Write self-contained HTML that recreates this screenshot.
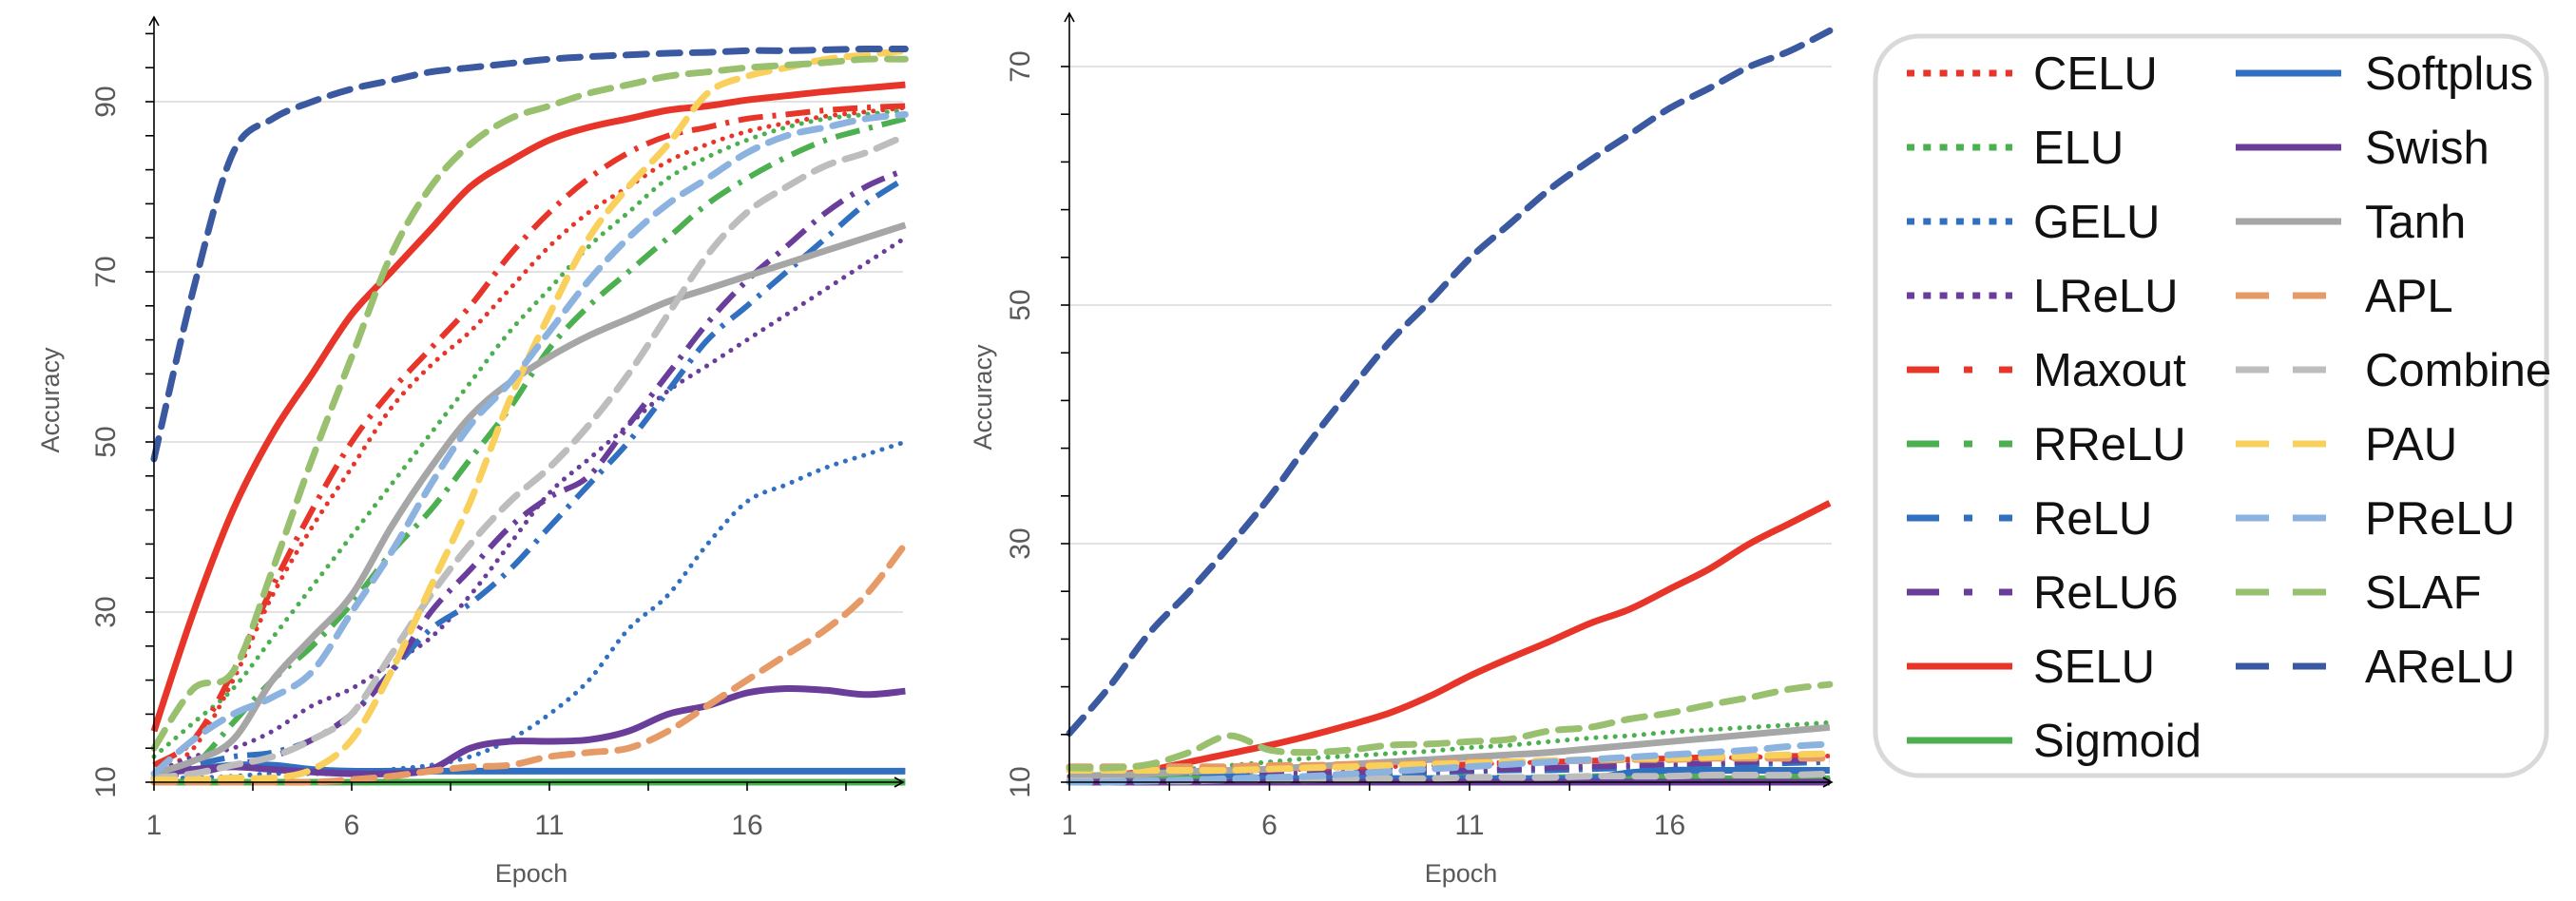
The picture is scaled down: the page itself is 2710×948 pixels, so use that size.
<!DOCTYPE html>
<html><head><meta charset="utf-8">
<style>
html,body{margin:0;padding:0;background:#fff;}
svg{display:block;}
text{font-family:"Liberation Sans",sans-serif;}
</style></head>
<body>
<svg id="fig" width="2710" height="948" viewBox="0 0 2710 948" xmlns="http://www.w3.org/2000/svg">
  <g id="left"></g>
  <g id="right"></g>
  <g id="legend">
    <rect x="1973" y="38" width="706" height="778" rx="46" ry="46" fill="#fff" stroke="#d9d9d9" stroke-width="5"/>
  </g>
</svg>
<script>
const epochs = [1,2,3,4,5,6,7,8,9,10,11,12,13,14,15,16,17,18,19,20];
const seriesNames = ["CELU","ELU","GELU","LReLU","Maxout","RReLU","ReLU","ReLU6","SELU","Sigmoid","Softplus","Swish","Tanh","APL","Combine","PAU","PReLU","SLAF","AReLU"];
const leftTicks = [10,30,50,70,90];
const rightTicks = [10,30,50,70];
const xTickLabels = [1,6,11,16];

// Left chart values
const L_CELU   = [11,14,22,32,40,47,54,59,63,68,73,77,80,83,85,86.5,87.5,88.3,88.8,89.3];
const L_ELU    = [13,17,21,27,33,39,45,51,57,63,68,73,77,81,83.5,85.5,87,88,88.5,89];
const L_GELU   = [10.5,10.5,10.7,11,11,11,11.5,12,13,15,18,22,28,32,38,43,45,47,48.5,50];
const L_LReLU  = [11,13,14,16,19,21,24,27,32,38,44,48,52,56,59,62,65,68,71,74];
const L_Maxout = [12,15,23,33,42,50,56,61,66,72,77,81,84,86,87,88,88.5,89,89.3,89.5];
const L_RReLU  = [11,12,17,22,26,31,37,42,48,54,61,66,70,74,78,81,83.5,85.5,86.8,88];
const L_ReLU   = [11,12,13,13.5,15,18,23,28,31,35,40,45,50,56,62,66,70,74,78,81];
const L_ReLU6  = [11,11,12,13,15,18,23,30,35,40,43.5,46,52,58,64,69,73,77,80,82];
const L_SELU   = [16,30,42,51,58,65,70,75,80,83,85.5,87,88,89,89.5,90.2,90.7,91.2,91.6,92];
const L_Sigmoid= [10,10,10,10,10,10,10,10,10,10,10,10,10,10,10,10,10,10,10,10];
const L_Softplus=[11,11.5,12,12,11.5,11.3,11.3,11.3,11.3,11.3,11.3,11.3,11.3,11.3,11.3,11.3,11.3,11.3,11.3,11.3];
const L_Swish  = [11,11.5,11.8,11.5,11.2,11,11,11.5,14,14.8,14.8,15,16,18,19,20.5,21,20.8,20.3,20.7];
const L_Tanh   = [11,12.5,15,22,27,32,40,47,53,57,60,62.5,64.5,66.5,68,69.5,71,72.5,74,75.5];
const L_APL    = [10,10,10,10,10,10.3,10.7,11.3,11.8,12,13,13.5,14,16,19,22,25,28,32,38];
const L_Combine= [10.5,11,12,13,15,18,25,32,38,43,47,52,58,65,72,77,80,82.5,84,86];
const L_PAU    = [10.3,10.3,10.5,10.5,11.5,15,23,33,43,55,65,74,80,85,91,93,94,95,95.5,96];
const L_PReLU  = [11,15,18,20,23,30,37,45,52,57,63,69,74,78,81,84,86,87,88,88.5];
const L_SLAF   = [14,21,23,35,48,60,72,80,85,88,89.5,91,92,93,93.5,94,94.3,94.6,95,95];
const L_AReLU  = [48,68,84,88,90,91.5,92.5,93.5,94,94.5,95,95.3,95.5,95.7,95.8,96,96,96.1,96.2,96.2];

// Right chart values
const R_CELU   = [10.3,10.4,10.5,10.6,10.8,11,11.1,11.2,11.3,11.4,11.5,11.6,11.7,11.8,11.9,12,12,12.1,12.1,12.2];
const R_ELU    = [10.5,10.7,10.9,11.1,11.4,11.7,12,12.2,12.4,12.6,12.9,13.1,13.4,13.7,13.9,14.2,14.4,14.6,14.8,15];
const R_GELU   = [10.2,10.2,10.2,10.2,10.2,10.2,10.2,10.2,10.2,10.2,10.2,10.2,10.2,10.2,10.2,10.2,10.3,10.3,10.3,10.3];
const R_LReLU  = [10.5,10.5,10.4,10.4,10.4,10.3,10.3,10.3,10.3,10.3,10.3,10.3,10.2,10.2,10.2,10.2,10.2,10.2,10.2,10.2];
const R_Maxout = [10.5,10.6,10.7,10.8,10.9,11,11.1,11.2,11.3,11.4,11.5,11.6,11.7,11.8,11.9,12,12.1,12.1,12.2,12.2];
const R_RReLU  = [10.2,10.2,10.2,10.3,10.3,10.3,10.3,10.3,10.4,10.4,10.4,10.4,10.4,10.5,10.5,10.5,10.5,10.5,10.5,10.5];
const R_ReLU   = [10.3,10.3,10.4,10.4,10.5,10.5,10.6,10.6,10.7,10.8,10.9,11,11,11.1,11.2,11.3,11.4,11.5,11.6,11.7];
const R_ReLU6  = [10.3,10.3,10.4,10.5,10.5,10.6,10.7,10.8,10.9,11,11,11.1,11.2,11.3,11.4,11.5,11.6,11.7,11.8,11.9];
const R_SELU   = [10.2,10.5,11,11.7,12.4,13.1,13.9,14.8,15.8,17.2,18.9,20.4,21.8,23.3,24.5,26.2,27.9,30,31.7,33.4];
const R_Sigmoid= [10.3,10.3,10.3,10.3,10.3,10.3,10.3,10.3,10.3,10.3,10.3,10.3,10.3,10.3,10.3,10.3,10.3,10.3,10.3,10.3];
const R_Softplus=[10.3,10.4,10.8,10.9,10.6,10.3,10.3,10.3,10.3,10.3,10.3,10.3,10.3,10.3,10.8,11,11,11,11,11];
const R_Swish  = [10,10,10,10,10,10,10,10,10,10,10,10,10,10,10,10,10,10,10,10];
const R_Tanh   = [10.5,10.6,10.7,10.9,11,11.1,11.3,11.5,11.7,11.9,12.1,12.3,12.5,12.8,13.1,13.4,13.7,14,14.3,14.6];
const R_APL    = [11.3,11.3,11.3,11.3,11.3,11.4,11.4,11.5,11.5,11.6,11.7,11.7,11.8,11.8,11.9,11.9,12,12,12,12];
const R_Combine= [10.1,10.1,10.1,10.1,10.2,10.2,10.2,10.3,10.3,10.3,10.4,10.4,10.4,10.5,10.5,10.5,10.6,10.6,10.6,10.7];
const R_PAU    = [11,11,11,11,11,11.1,11.2,11.3,11.4,11.5,11.6,11.7,11.8,11.9,12,12,12.1,12.2,12.3,12.4];
const R_PReLU  = [10,10,10.1,10.2,10.3,10.4,10.5,10.7,10.9,11.1,11.3,11.5,11.7,11.9,12.1,12.3,12.5,12.7,13,13.2];
const R_SLAF   = [11.2,11.2,11.5,12.5,13.9,12.7,12.5,12.7,13.1,13.2,13.4,13.6,14.3,14.6,15.3,15.8,16.5,17.1,17.8,18.2];
const R_AReLU  = [14.1,18,22.5,26,29.8,33.9,38.5,42.8,46.9,50.3,53.9,56.8,59.7,62.1,64.3,66.5,68.2,70,71.3,73];

const leftData = [L_CELU,L_ELU,L_GELU,L_LReLU,L_Maxout,L_RReLU,L_ReLU,L_ReLU6,L_SELU,L_Sigmoid,L_Softplus,L_Swish,L_Tanh,L_APL,L_Combine,L_PAU,L_PReLU,L_SLAF,L_AReLU];
const rightData = [R_CELU,R_ELU,R_GELU,R_LReLU,R_Maxout,R_RReLU,R_ReLU,R_ReLU6,R_SELU,R_Sigmoid,R_Softplus,R_Swish,R_Tanh,R_APL,R_Combine,R_PAU,R_PReLU,R_SLAF,R_AReLU];

const RED="#e8352a",GRN="#4caf50",BLU="#3170c1",PUR="#6a3d9a",GRY="#a6a6a6",ORG="#e69a66",LGY="#bdbdbd",YEL="#f9d05b",LBL="#8cb3e0",LGR="#99c06e",DBL="#3b59a0";
const styles = [
 {c:RED,t:"dot"},{c:GRN,t:"dot"},{c:BLU,t:"dot"},{c:PUR,t:"dot"},
 {c:RED,t:"dd"},{c:GRN,t:"dd"},{c:BLU,t:"dd"},{c:PUR,t:"dd"},
 {c:RED,t:"solid"},{c:GRN,t:"solid"},{c:BLU,t:"solid"},{c:PUR,t:"solid"},{c:GRY,t:"solid"},
 {c:ORG,t:"dash"},{c:LGY,t:"dash"},{c:YEL,t:"dash"},{c:LBL,t:"dash"},{c:LGR,t:"dash"},{c:DBL,t:"dash"}
];
const NS="http://www.w3.org/2000/svg";
function mk(tag, attrs, parent){const e=document.createElementNS(NS,tag);for(const k in attrs)e.setAttribute(k,attrs[k]);parent.appendChild(e);return e;}

function smoothPath(pts){
  let d="M"+pts[0][0].toFixed(1)+","+pts[0][1].toFixed(1);
  for(let i=0;i<pts.length-1;i++){
    const p0=pts[Math.max(0,i-1)],p1=pts[i],p2=pts[i+1],p3=pts[Math.min(pts.length-1,i+2)];
    const c1x=p1[0]+(p2[0]-p0[0])/6,c1y=p1[1]+(p2[1]-p0[1])/6;
    const c2x=p2[0]-(p3[0]-p1[0])/6,c2y=p2[1]-(p3[1]-p1[1])/6;
    d+=` C${c1x.toFixed(1)},${c1y.toFixed(1)} ${c2x.toFixed(1)},${c2y.toFixed(1)} ${p2[0].toFixed(1)},${p2[1].toFixed(1)}`;
  }
  return d;
}

function strokeAttrs(st, chart){
  const a={fill:"none",stroke:st.c,"stroke-linejoin":"round"};
  if(st.t==="dot"){a["stroke-width"]=5;a["stroke-dasharray"]="0.1 10";a["stroke-linecap"]="round";}
  else if(st.t==="dd"){a["stroke-width"]=7;a["stroke-dasharray"]="34 26 9 28";a["stroke-linecap"]="butt";}
  else if(st.t==="dash"){a["stroke-width"]=7;a["stroke-dasharray"]=chart?"22 13":"35 25";a["stroke-linecap"]=chart?"round":"butt";}
  else {a["stroke-width"]=7;a["stroke-linecap"]="butt";}
  return a;
}

function drawChart(g, cfg, data){
  const X = e => cfg.x0 + (e-1)*cfg.dx;
  const Y = v => cfg.y0 - (v-10)*cfg.dy;
  cfg.ticks.forEach(v=>{
    if(v===10) return;
    const l=mk("line",{x1:cfg.x0,x2:cfg.xEnd,y1:Y(v),y2:Y(v),stroke:"#d9d9d9","stroke-width":1.5},g);
    
    
  });
  data.forEach((vals,i)=>{
    const st=styles[i];
    const pts=vals.map((v,j)=>[X(epochs[j]),Y(v)]);
    const a=strokeAttrs(st,true);
    if(st.t==="dd"){a["stroke-width"]=6;a["stroke-dasharray"]="26 10 4 10";}
    a.d=smoothPath(pts);
    const p=mk("path",a,g);
    
    
  });
  const ax=mk("g",{stroke:"#000","stroke-width":1.6,fill:"none"},g);
  
  
  mk("line",{x1:cfg.x0,y1:cfg.y0,x2:cfg.x0,y2:cfg.yTop},ax);
  mk("path",{d:`M${cfg.x0-5},${cfg.yTop+9} L${cfg.x0},${cfg.yTop} L${cfg.x0+5},${cfg.yTop+9}`},ax);
  mk("line",{x1:cfg.x0,y1:cfg.y0,x2:cfg.xEnd,y2:cfg.y0},ax);
  mk("path",{d:`M${cfg.xEnd-9},${cfg.y0-5} L${cfg.xEnd},${cfg.y0} L${cfg.xEnd-9},${cfg.y0+5}`},ax);
  for(let v=10; Y(v)>cfg.yTop+8; v+=4){mk("line",{x1:cfg.x0-9,x2:cfg.x0,y1:Y(v),y2:Y(v)},ax);}
  for(let e=1; X(e)<cfg.xEnd-5; e+=2.5){mk("line",{x1:X(e),x2:X(e),y1:cfg.y0,y2:cfg.y0+9},ax);}
  cfg.ticks.forEach(v=>{
    const t=mk("text",{x:0,y:0,transform:`translate(${cfg.ylx},${Y(v)}) rotate(-90)`,"text-anchor":"middle","font-size":30,fill:"#595959"},g);
    t.textContent=v;
    
    
  });
  xTickLabels.forEach(e=>{
    const t=mk("text",{x:X(e),y:cfg.y0+55,"text-anchor":"middle","font-size":30,fill:"#595959"},g);
    t.textContent=e;
    
    
  });
  const yt=mk("text",{x:0,y:0,transform:`translate(${cfg.ytx},${cfg.yty}) rotate(-90)`,"text-anchor":"middle","font-size":27,fill:"#595959"},g);
  yt.textContent="Accuracy";
  
  
  const xt=mk("text",{x:cfg.xtx,y:928,"text-anchor":"middle","font-size":27,fill:"#595959"},g);
  xt.textContent="Epoch";
  
  
}

drawChart(document.getElementById("left"),{x0:162,dx:41.6,xEnd:950,y0:823,dy:8.95,yTop:18,ticks:leftTicks,ylx:121,ytx:62,yty:421,xtx:559},leftData);
drawChart(document.getElementById("right"),{x0:1125,dx:42.1,xEnd:1927,y0:823,dy:12.55,yTop:14,ticks:rightTicks,ylx:1083,ytx:1043,yty:418,xtx:1537},rightData);

const lg=document.getElementById("legend");
seriesNames.forEach((n,i)=>{
  const col = i<10?0:1, row = i<10?i:i-10;
  const y = 77 + row*78;
  const lx = col? 2352:2006, tx = col?2488:2139;
  const st=styles[i];
  const a=strokeAttrs(st,false);
  a.d=`M${lx},${y} L${lx+111},${y}`;
  if(st.t==="dot"){a["stroke-width"]=7;a["stroke-dasharray"]="8 9.3";a["stroke-linecap"]="butt";}
  const p=mk("path",a,lg);
  
  
  const t=mk("text",{x:tx,y:y+17,"font-size":49,fill:"#111"},lg);
  t.textContent=n;
  
  
});
</script>
</body></html>
